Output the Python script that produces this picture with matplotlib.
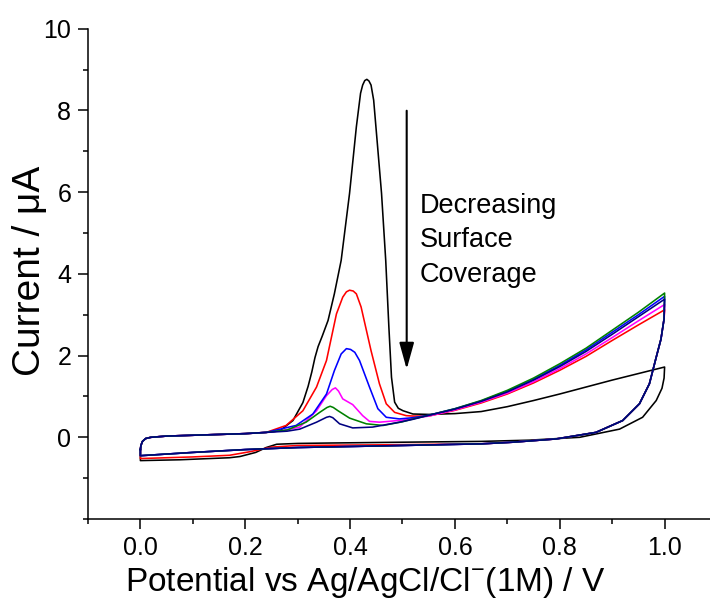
import matplotlib
matplotlib.use("Agg")
import matplotlib.pyplot as plt
import numpy as np

plt.rcParams['font.family'] = ['Liberation Sans', 'DejaVu Sans']
plt.rcParams['mathtext.fontset'] = 'custom'
plt.rcParams['mathtext.rm'] = 'Liberation Sans'

# shared start of the forward scan (0 V corner)
lead_v = [0.0, 0.001, 0.004, 0.010, 0.020, 0.05, 0.10, 0.15, 0.20, 0.24]
lead_i = [-0.30, -0.20, -0.10, -0.03, 0.00, 0.03, 0.05, 0.07, 0.09, 0.12]

# oxidation peak sections, forward scan
black_peak_v = [0.266, 0.291, 0.310, 0.320, 0.327, 0.333, 0.339, 0.347, 0.358, 0.370,
                0.383, 0.399, 0.412, 0.420, 0.424, 0.428, 0.432, 0.436, 0.440, 0.445,
                0.452, 0.460, 0.468, 0.474, 0.479, 0.485, 0.492, 0.501, 0.520]
black_peak_i = [0.16, 0.41, 0.85, 1.25, 1.60, 1.95, 2.22, 2.48, 2.86, 3.51,
                4.33, 5.97, 7.60, 8.42, 8.62, 8.73, 8.76, 8.72, 8.62, 8.25,
                7.19, 5.97, 4.33, 2.70, 1.47, 0.86, 0.71, 0.65, 0.57]
red_peak_v = [0.278, 0.310, 0.336, 0.355, 0.374, 0.386, 0.393, 0.399, 0.406, 0.412,
              0.421, 0.440, 0.456, 0.469, 0.485, 0.507, 0.52]
red_peak_i = [0.29, 0.65, 1.23, 1.88, 3.02, 3.43, 3.56, 3.60, 3.58, 3.51,
              3.19, 2.12, 1.31, 0.82, 0.61, 0.53, 0.52]
blue_peak_v = [0.297, 0.329, 0.355, 0.370, 0.383, 0.393, 0.401, 0.409, 0.418, 0.437,
               0.453, 0.469, 0.494, 0.52]
blue_peak_i = [0.29, 0.57, 1.06, 1.63, 2.04, 2.17, 2.15, 2.08, 1.88, 1.23,
               0.70, 0.49, 0.45, 0.48]
magenta_peak_v = [0.27, 0.304, 0.336, 0.355, 0.366, 0.372, 0.378, 0.386, 0.405, 0.424,
                  0.437, 0.456, 0.50, 0.52]
magenta_peak_i = [0.16, 0.25, 0.65, 1.02, 1.17, 1.21, 1.13, 0.94, 0.80, 0.53,
                  0.39, 0.37, 0.42, 0.46]
green_peak_v = [0.28, 0.316, 0.342, 0.356, 0.362, 0.368, 0.377, 0.399, 0.431, 0.463,
                0.50, 0.52]
green_peak_i = [0.18, 0.37, 0.61, 0.73, 0.76, 0.73, 0.65, 0.47, 0.33, 0.29,
                0.38, 0.45]
navy_peak_v = [0.28, 0.304, 0.336, 0.355, 0.361, 0.367, 0.380, 0.405, 0.443, 0.494, 0.52]
navy_peak_i = [0.15, 0.20, 0.37, 0.49, 0.51, 0.48, 0.33, 0.23, 0.25, 0.37, 0.44]

# forward scan after the peak, up to the 1.0 V vertex
tail_v = [0.55, 0.60, 0.65, 0.70, 0.75, 0.80, 0.85, 0.90, 0.95, 1.0]
black_tail_i = [0.56, 0.58, 0.63, 0.75, 0.90, 1.06, 1.23, 1.40, 1.56, 1.72]
red_tail_i = [0.52, 0.66, 0.84, 1.06, 1.33, 1.64, 1.98, 2.37, 2.75, 3.12]
magenta_tail_i = [0.52, 0.67, 0.86, 1.08, 1.36, 1.68, 2.04, 2.44, 2.85, 3.25]
navy_tail_i = [0.54, 0.69, 0.88, 1.11, 1.40, 1.73, 2.10, 2.52, 2.95, 3.38]
blue_tail_i = [0.54, 0.70, 0.89, 1.13, 1.42, 1.76, 2.14, 2.57, 3.00, 3.45]
green_tail_i = [0.54, 0.70, 0.90, 1.15, 1.45, 1.80, 2.18, 2.62, 3.06, 3.53]

# reverse scan from 1.0 V back to 0 V
black_rev_v = [0.999, 0.995, 0.984, 0.958, 0.914, 0.838, 0.742, 0.65, 0.50, 0.36,
               0.30, 0.26, 0.24, 0.22, 0.19, 0.17, 0.075, 0.0]
black_rev_i = [1.45, 1.20, 0.90, 0.49, 0.20, 0.00, -0.07, -0.10, -0.12, -0.14,
               -0.15, -0.17, -0.25, -0.37, -0.47, -0.50, -0.55, -0.57]
col_rev_v = [0.999, 0.993, 0.984, 0.971, 0.952, 0.920, 0.869, 0.793, 0.710, 0.65]
col_rev_i = [2.90, 2.40, 1.96, 1.31, 0.82, 0.41, 0.12, -0.04, -0.12, -0.16]
red_low_v = [0.50, 0.30, 0.25, 0.21, 0.17, 0.10, 0.0]
red_low_i = [-0.18, -0.20, -0.24, -0.35, -0.44, -0.48, -0.52]
col_low_v = [0.50, 0.30, 0.20, 0.10, 0.0]
col_low_i = [-0.20, -0.25, -0.30, -0.37, -0.45]

curves = [
    ('black', black_peak_v, black_peak_i, black_tail_i, black_rev_v, black_rev_i),
    ('red', red_peak_v, red_peak_i, red_tail_i, col_rev_v + red_low_v, col_rev_i + red_low_i),
    ('magenta', magenta_peak_v, magenta_peak_i, magenta_tail_i, col_rev_v + col_low_v, col_rev_i + col_low_i),
    ('blue', blue_peak_v, blue_peak_i, blue_tail_i, col_rev_v + col_low_v, col_rev_i + col_low_i),
    ('green', green_peak_v, green_peak_i, green_tail_i, col_rev_v + col_low_v, col_rev_i + col_low_i),
    ('#000080', navy_peak_v, navy_peak_i, navy_tail_i, col_rev_v + col_low_v, col_rev_i + col_low_i),
]

fig = plt.figure(figsize=(7.1, 6.05), dpi=100)
ax = fig.add_axes([0.1239, 0.1421, 0.886, 0.8105])

for color, pv, pi, ti, rv, ri in curves:
    v = lead_v + pv + tail_v + rv + [lead_v[0]]
    i = lead_i + pi + ti + ri + [lead_i[0]]
    ax.plot(v, i, color=color, lw=1.15, solid_joinstyle='round')

ax.set_xlim(-0.1, 1.1)
ax.set_ylim(-2, 10)
ax.set_xticks(np.arange(0, 1.01, 0.2))
ax.set_xticks(np.arange(-0.1, 1.1, 0.1), minor=True)
ax.set_yticks([0, 2, 4, 6, 8, 10])
ax.set_yticks(np.arange(-2, 10.5, 1), minor=True)
ax.xaxis.set_major_formatter(matplotlib.ticker.FormatStrFormatter('%.1f'))
ax.spines['top'].set_visible(False)
ax.spines['right'].set_visible(False)
for s in ('left', 'bottom'):
    ax.spines[s].set_linewidth(1.1)
ax.tick_params(which='major', direction='out', length=7, width=1.1, labelsize=18, pad=5)
ax.tick_params(which='minor', direction='out', length=3.5, width=1.1)

fig.text(365 / 710, 1 - 582 / 605, r'Potential vs Ag/AgCl/Cl$^{-}$(1M) / V',
         ha='center', va='center', fontsize=24)
fig.text(30 / 710, 1 - 271 / 605, 'Current / μA', rotation=90,
         ha='center', va='center', fontsize=28)

ax.annotate('', xy=(0.508, 1.6), xytext=(0.508, 8.06),
            arrowprops=dict(arrowstyle='-|>,head_length=0.9,head_width=0.25',
                            color='black', lw=1.5, mutation_scale=18))
ax.text(0.5325, 4.82, 'Decreasing\nSurface\nCoverage', fontsize=19.5, va='center',
        ha='left', linespacing=1.42)

fig.savefig('out.png', dpi=100)
